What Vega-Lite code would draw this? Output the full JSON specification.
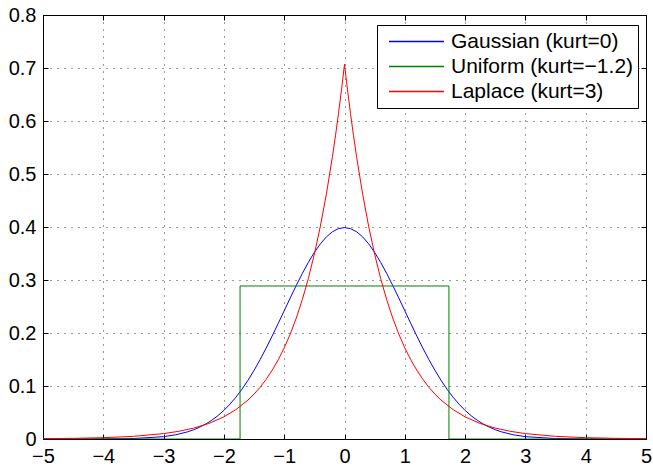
{
  "$schema": "https://vega.github.io/schema/vega-lite/v6.json",
  "width": 603,
  "height": 424,
  "autosize": {"type": "none"},
  "padding": {"left": 43, "top": 15, "right": 7, "bottom": 28},
  "background": "white",
  "config": {
    "view": {"stroke": "black", "strokeWidth": 1},
    "font": "Liberation Sans",
    "axis": {
      "labelFont": "Liberation Sans",
      "labelFontSize": 20,
      "labelColor": "black",
      "domainColor": "black",
      "tickColor": "black",
      "labelOverlap": false,
      "labelFlush": false,
      "labelBound": false
    }
  },
  "data": {
    "values": [
      {"s": "Gaussian (kurt=0)", "i": 1, "x": -5, "y": 0.0000015},
      {"s": "Gaussian (kurt=0)", "i": 2, "x": -4.5, "y": 0.00002},
      {"s": "Gaussian (kurt=0)", "i": 3, "x": -4, "y": 0.00013},
      {"s": "Gaussian (kurt=0)", "i": 4, "x": -3.5, "y": 0.00087},
      {"s": "Gaussian (kurt=0)", "i": 5, "x": -3, "y": 0.00443},
      {"s": "Gaussian (kurt=0)", "i": 6, "x": -2.8, "y": 0.00792},
      {"s": "Gaussian (kurt=0)", "i": 7, "x": -2.6, "y": 0.01358},
      {"s": "Gaussian (kurt=0)", "i": 8, "x": -2.5, "y": 0.01753},
      {"s": "Gaussian (kurt=0)", "i": 9, "x": -2.4, "y": 0.02239},
      {"s": "Gaussian (kurt=0)", "i": 10, "x": -2.3, "y": 0.02833},
      {"s": "Gaussian (kurt=0)", "i": 11, "x": -2.2, "y": 0.03547},
      {"s": "Gaussian (kurt=0)", "i": 12, "x": -2.1, "y": 0.04398},
      {"s": "Gaussian (kurt=0)", "i": 13, "x": -2, "y": 0.05399},
      {"s": "Gaussian (kurt=0)", "i": 14, "x": -1.9, "y": 0.06562},
      {"s": "Gaussian (kurt=0)", "i": 15, "x": -1.8, "y": 0.07895},
      {"s": "Gaussian (kurt=0)", "i": 16, "x": -1.7, "y": 0.09405},
      {"s": "Gaussian (kurt=0)", "i": 17, "x": -1.6, "y": 0.11092},
      {"s": "Gaussian (kurt=0)", "i": 18, "x": -1.5, "y": 0.12952},
      {"s": "Gaussian (kurt=0)", "i": 19, "x": -1.4, "y": 0.14973},
      {"s": "Gaussian (kurt=0)", "i": 20, "x": -1.3, "y": 0.17137},
      {"s": "Gaussian (kurt=0)", "i": 21, "x": -1.2, "y": 0.19419},
      {"s": "Gaussian (kurt=0)", "i": 22, "x": -1.1, "y": 0.21785},
      {"s": "Gaussian (kurt=0)", "i": 23, "x": -1, "y": 0.24197},
      {"s": "Gaussian (kurt=0)", "i": 24, "x": -0.9, "y": 0.26609},
      {"s": "Gaussian (kurt=0)", "i": 25, "x": -0.8, "y": 0.28969},
      {"s": "Gaussian (kurt=0)", "i": 26, "x": -0.7, "y": 0.31225},
      {"s": "Gaussian (kurt=0)", "i": 27, "x": -0.6, "y": 0.33322},
      {"s": "Gaussian (kurt=0)", "i": 28, "x": -0.5, "y": 0.35207},
      {"s": "Gaussian (kurt=0)", "i": 29, "x": -0.4, "y": 0.36827},
      {"s": "Gaussian (kurt=0)", "i": 30, "x": -0.3, "y": 0.38139},
      {"s": "Gaussian (kurt=0)", "i": 31, "x": -0.2, "y": 0.39104},
      {"s": "Gaussian (kurt=0)", "i": 32, "x": -0.1, "y": 0.39695},
      {"s": "Gaussian (kurt=0)", "i": 33, "x": 0, "y": 0.39894},
      {"s": "Gaussian (kurt=0)", "i": 34, "x": 0.1, "y": 0.39695},
      {"s": "Gaussian (kurt=0)", "i": 35, "x": 0.2, "y": 0.39104},
      {"s": "Gaussian (kurt=0)", "i": 36, "x": 0.3, "y": 0.38139},
      {"s": "Gaussian (kurt=0)", "i": 37, "x": 0.4, "y": 0.36827},
      {"s": "Gaussian (kurt=0)", "i": 38, "x": 0.5, "y": 0.35207},
      {"s": "Gaussian (kurt=0)", "i": 39, "x": 0.6, "y": 0.33322},
      {"s": "Gaussian (kurt=0)", "i": 40, "x": 0.7, "y": 0.31225},
      {"s": "Gaussian (kurt=0)", "i": 41, "x": 0.8, "y": 0.28969},
      {"s": "Gaussian (kurt=0)", "i": 42, "x": 0.9, "y": 0.26609},
      {"s": "Gaussian (kurt=0)", "i": 43, "x": 1, "y": 0.24197},
      {"s": "Gaussian (kurt=0)", "i": 44, "x": 1.1, "y": 0.21785},
      {"s": "Gaussian (kurt=0)", "i": 45, "x": 1.2, "y": 0.19419},
      {"s": "Gaussian (kurt=0)", "i": 46, "x": 1.3, "y": 0.17137},
      {"s": "Gaussian (kurt=0)", "i": 47, "x": 1.4, "y": 0.14973},
      {"s": "Gaussian (kurt=0)", "i": 48, "x": 1.5, "y": 0.12952},
      {"s": "Gaussian (kurt=0)", "i": 49, "x": 1.6, "y": 0.11092},
      {"s": "Gaussian (kurt=0)", "i": 50, "x": 1.7, "y": 0.09405},
      {"s": "Gaussian (kurt=0)", "i": 51, "x": 1.8, "y": 0.07895},
      {"s": "Gaussian (kurt=0)", "i": 52, "x": 1.9, "y": 0.06562},
      {"s": "Gaussian (kurt=0)", "i": 53, "x": 2, "y": 0.05399},
      {"s": "Gaussian (kurt=0)", "i": 54, "x": 2.1, "y": 0.04398},
      {"s": "Gaussian (kurt=0)", "i": 55, "x": 2.2, "y": 0.03547},
      {"s": "Gaussian (kurt=0)", "i": 56, "x": 2.3, "y": 0.02833},
      {"s": "Gaussian (kurt=0)", "i": 57, "x": 2.4, "y": 0.02239},
      {"s": "Gaussian (kurt=0)", "i": 58, "x": 2.5, "y": 0.01753},
      {"s": "Gaussian (kurt=0)", "i": 59, "x": 2.6, "y": 0.01358},
      {"s": "Gaussian (kurt=0)", "i": 60, "x": 2.8, "y": 0.00792},
      {"s": "Gaussian (kurt=0)", "i": 61, "x": 3, "y": 0.00443},
      {"s": "Gaussian (kurt=0)", "i": 62, "x": 3.5, "y": 0.00087},
      {"s": "Gaussian (kurt=0)", "i": 63, "x": 4, "y": 0.00013},
      {"s": "Gaussian (kurt=0)", "i": 64, "x": 4.5, "y": 0.00002},
      {"s": "Gaussian (kurt=0)", "i": 65, "x": 5, "y": 0.0000015},
      {"s": "Uniform (kurt=−1.2)", "i": 1, "x": -5, "y": 0},
      {"s": "Uniform (kurt=−1.2)", "i": 2, "x": -1.7321, "y": 0},
      {"s": "Uniform (kurt=−1.2)", "i": 3, "x": -1.7321, "y": 0.2887},
      {"s": "Uniform (kurt=−1.2)", "i": 4, "x": 1.7321, "y": 0.2887},
      {"s": "Uniform (kurt=−1.2)", "i": 5, "x": 1.7321, "y": 0},
      {"s": "Uniform (kurt=−1.2)", "i": 6, "x": 5, "y": 0},
      {"s": "Laplace (kurt=3)", "i": 1, "x": -5, "y": 0.0006},
      {"s": "Laplace (kurt=3)", "i": 2, "x": -4.5, "y": 0.0012},
      {"s": "Laplace (kurt=3)", "i": 3, "x": -4, "y": 0.0025},
      {"s": "Laplace (kurt=3)", "i": 4, "x": -3.5, "y": 0.005},
      {"s": "Laplace (kurt=3)", "i": 5, "x": -3, "y": 0.0102},
      {"s": "Laplace (kurt=3)", "i": 6, "x": -2.75, "y": 0.0145},
      {"s": "Laplace (kurt=3)", "i": 7, "x": -2.5, "y": 0.0206},
      {"s": "Laplace (kurt=3)", "i": 8, "x": -2.25, "y": 0.0293},
      {"s": "Laplace (kurt=3)", "i": 9, "x": -2, "y": 0.0418},
      {"s": "Laplace (kurt=3)", "i": 10, "x": -1.8, "y": 0.0555},
      {"s": "Laplace (kurt=3)", "i": 11, "x": -1.6, "y": 0.0736},
      {"s": "Laplace (kurt=3)", "i": 12, "x": -1.5, "y": 0.0848},
      {"s": "Laplace (kurt=3)", "i": 13, "x": -1.4, "y": 0.0976},
      {"s": "Laplace (kurt=3)", "i": 14, "x": -1.3, "y": 0.1125},
      {"s": "Laplace (kurt=3)", "i": 15, "x": -1.2, "y": 0.1296},
      {"s": "Laplace (kurt=3)", "i": 16, "x": -1.1, "y": 0.1493},
      {"s": "Laplace (kurt=3)", "i": 17, "x": -1, "y": 0.1719},
      {"s": "Laplace (kurt=3)", "i": 18, "x": -0.9, "y": 0.198},
      {"s": "Laplace (kurt=3)", "i": 19, "x": -0.8, "y": 0.2281},
      {"s": "Laplace (kurt=3)", "i": 20, "x": -0.7, "y": 0.2628},
      {"s": "Laplace (kurt=3)", "i": 21, "x": -0.6, "y": 0.3027},
      {"s": "Laplace (kurt=3)", "i": 22, "x": -0.5, "y": 0.3487},
      {"s": "Laplace (kurt=3)", "i": 23, "x": -0.4, "y": 0.4016},
      {"s": "Laplace (kurt=3)", "i": 24, "x": -0.3, "y": 0.4626},
      {"s": "Laplace (kurt=3)", "i": 25, "x": -0.2, "y": 0.5329},
      {"s": "Laplace (kurt=3)", "i": 26, "x": -0.15, "y": 0.572},
      {"s": "Laplace (kurt=3)", "i": 27, "x": -0.1, "y": 0.6139},
      {"s": "Laplace (kurt=3)", "i": 28, "x": -0.05, "y": 0.6588},
      {"s": "Laplace (kurt=3)", "i": 29, "x": 0, "y": 0.7071},
      {"s": "Laplace (kurt=3)", "i": 30, "x": 0.05, "y": 0.6588},
      {"s": "Laplace (kurt=3)", "i": 31, "x": 0.1, "y": 0.6139},
      {"s": "Laplace (kurt=3)", "i": 32, "x": 0.15, "y": 0.572},
      {"s": "Laplace (kurt=3)", "i": 33, "x": 0.2, "y": 0.5329},
      {"s": "Laplace (kurt=3)", "i": 34, "x": 0.3, "y": 0.4626},
      {"s": "Laplace (kurt=3)", "i": 35, "x": 0.4, "y": 0.4016},
      {"s": "Laplace (kurt=3)", "i": 36, "x": 0.5, "y": 0.3487},
      {"s": "Laplace (kurt=3)", "i": 37, "x": 0.6, "y": 0.3027},
      {"s": "Laplace (kurt=3)", "i": 38, "x": 0.7, "y": 0.2628},
      {"s": "Laplace (kurt=3)", "i": 39, "x": 0.8, "y": 0.2281},
      {"s": "Laplace (kurt=3)", "i": 40, "x": 0.9, "y": 0.198},
      {"s": "Laplace (kurt=3)", "i": 41, "x": 1, "y": 0.1719},
      {"s": "Laplace (kurt=3)", "i": 42, "x": 1.1, "y": 0.1493},
      {"s": "Laplace (kurt=3)", "i": 43, "x": 1.2, "y": 0.1296},
      {"s": "Laplace (kurt=3)", "i": 44, "x": 1.3, "y": 0.1125},
      {"s": "Laplace (kurt=3)", "i": 45, "x": 1.4, "y": 0.0976},
      {"s": "Laplace (kurt=3)", "i": 46, "x": 1.5, "y": 0.0848},
      {"s": "Laplace (kurt=3)", "i": 47, "x": 1.6, "y": 0.0736},
      {"s": "Laplace (kurt=3)", "i": 48, "x": 1.8, "y": 0.0555},
      {"s": "Laplace (kurt=3)", "i": 49, "x": 2, "y": 0.0418},
      {"s": "Laplace (kurt=3)", "i": 50, "x": 2.25, "y": 0.0293},
      {"s": "Laplace (kurt=3)", "i": 51, "x": 2.5, "y": 0.0206},
      {"s": "Laplace (kurt=3)", "i": 52, "x": 2.75, "y": 0.0145},
      {"s": "Laplace (kurt=3)", "i": 53, "x": 3, "y": 0.0102},
      {"s": "Laplace (kurt=3)", "i": 54, "x": 3.5, "y": 0.005},
      {"s": "Laplace (kurt=3)", "i": 55, "x": 4, "y": 0.0025},
      {"s": "Laplace (kurt=3)", "i": 56, "x": 4.5, "y": 0.0012},
      {"s": "Laplace (kurt=3)", "i": 57, "x": 5, "y": 0.0006}
    ]
  },
  "layer": [
    {
      "mark": {"type": "line", "strokeWidth": 1, "clip": true},
      "encoding": {
        "x": {
          "field": "x", "type": "quantitative",
          "scale": {"domain": [-5, 5], "nice": false, "zero": false},
          "axis": {
            "title": null, "orient": "bottom",
            "values": [-5, -4, -3, -2, -1, 0, 1, 2, 3, 4, 5],
            "format": "~g",
            "grid": true, "gridColor": "black", "gridDash": [1, 6], "gridWidth": 1, "gridOpacity": 0.8,
            "tickSize": -5, "labelPadding": 12
          }
        },
        "y": {
          "field": "y", "type": "quantitative",
          "scale": {"domain": [0, 0.8], "nice": false, "zero": false},
          "axis": {
            "title": null, "orient": "left",
            "values": [0, 0.1, 0.2, 0.3, 0.4, 0.5, 0.6, 0.7, 0.8],
            "format": "~g",
            "grid": true, "gridColor": "black", "gridDash": [1, 6], "gridWidth": 1, "gridOpacity": 0.8,
            "tickSize": -5, "labelPadding": 12
          }
        },
        "order": {"field": "i", "type": "quantitative"},
        "color": {
          "field": "s", "type": "nominal",
          "scale": {
            "domain": ["Gaussian (kurt=0)", "Uniform (kurt=−1.2)", "Laplace (kurt=3)"],
            "range": ["#0000ff", "#008000", "#ff0000"]
          },
          "legend": {
            "title": null,
            "orient": "none",
            "legendX": 334,
            "legendY": 10,
            "fillColor": "white",
            "strokeColor": "black",
            "padding": 4,
            "cornerRadius": 0,
            "rowPadding": 0,
            "clipHeight": 25,
            "symbolType": "stroke",
            "symbolSize": 3025,
            "symbolStrokeWidth": 1.5,
            "symbolOpacity": 1,
            "symbolOffset": 7,
            "labelOffset": 6,
            "labelFont": "Liberation Sans",
            "labelFontSize": 21,
            "labelColor": "black",
            "labelLimit": 400
          }
        }
      }
    },
    {
      "mark": {"type": "point", "opacity": 0},
      "encoding": {
        "x": {
          "field": "x", "type": "quantitative",
          "axis": {
            "title": null, "orient": "top", "labels": false, "grid": false, "domain": false,
            "values": [-5, -4, -3, -2, -1, 0, 1, 2, 3, 4, 5],
            "tickSize": -5
          }
        },
        "y": {
          "field": "y", "type": "quantitative",
          "axis": {
            "title": null, "orient": "right", "labels": false, "grid": false, "domain": false,
            "values": [0, 0.1, 0.2, 0.3, 0.4, 0.5, 0.6, 0.7, 0.8],
            "tickSize": -5
          }
        }
      }
    }
  ],
  "resolve": {"axis": {"x": "independent", "y": "independent"}}
}
